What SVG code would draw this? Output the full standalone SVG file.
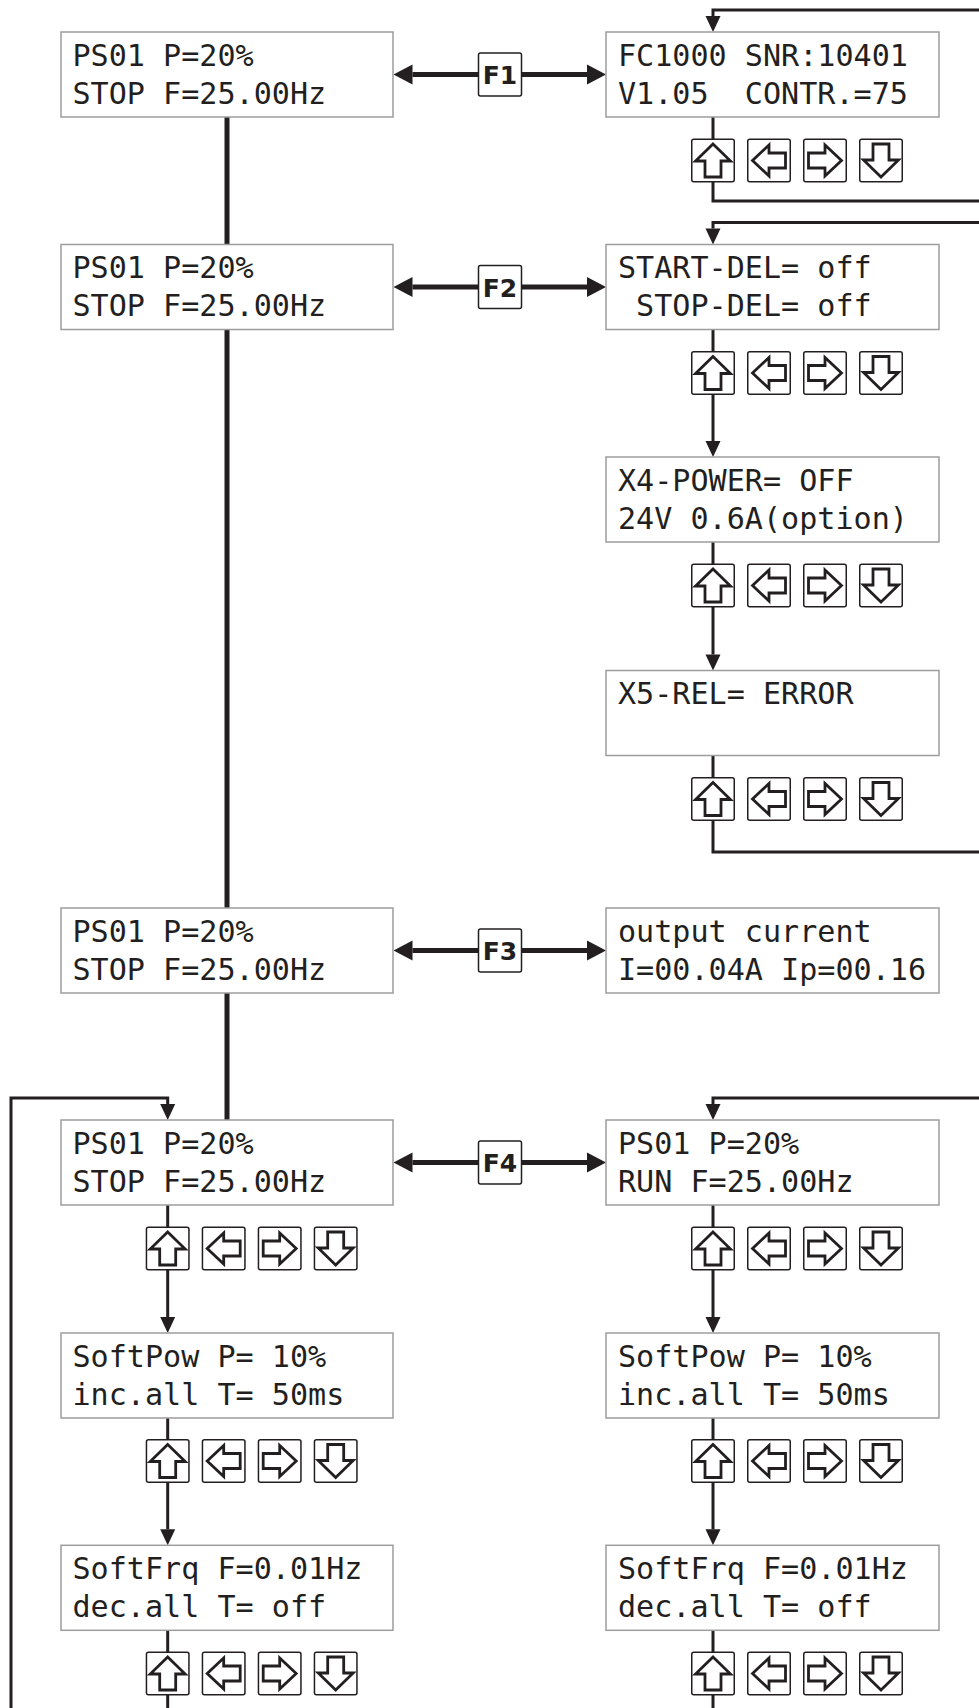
<svg xmlns="http://www.w3.org/2000/svg" xmlns:xlink="http://www.w3.org/1999/xlink" width="979" height="1708" viewBox="0 0 979 1708">
<style>
.box{fill:#fff;stroke:#9d9d9d;stroke-width:1.5}
.t{font-family:"DejaVu Sans Mono","Liberation Mono",monospace;font-size:30.1px;fill:#231f20}
.fk{fill:#fff;stroke:#231f20;stroke-width:1.5}
.fl{font-family:"DejaVu Sans","Liberation Sans",sans-serif;font-weight:900;font-size:25px;fill:#231f20;text-anchor:middle}
.thick{fill:none;stroke:#231f20;stroke-width:5}
.thin{fill:none;stroke:#231f20;stroke-width:3}
.kb{fill:#fff;stroke:#231f20;stroke-width:1.5}
.ar{fill:#fff;stroke:#231f20;stroke-width:2.8;stroke-linejoin:miter}
</style>
<defs>
<marker id="big" markerUnits="userSpaceOnUse" markerWidth="20" markerHeight="20" refX="0" refY="10" orient="auto-start-reverse" overflow="visible">
<path d="M0,0 L19,10 L0,20 Z" fill="#231f20"/>
</marker>
<marker id="sm" markerUnits="userSpaceOnUse" markerWidth="16" markerHeight="15" refX="0" refY="7.5" orient="auto" overflow="visible">
<path d="M0,0 L16,7.5 L0,15 Z" fill="#231f20"/>
</marker>
<g id="btn">
<rect class="kb" x="0.75" y="0.75" width="42.5" height="42.5" rx="2"/>
</g>
<g id="keys">
<use xlink:href="#btn" x="0"/>
<path class="ar" d="M22,5.5 L39.5,22.5 L30,22.5 L30,38.5 L14,38.5 L14,22.5 L4.5,22.5 Z"/>
<use xlink:href="#btn" x="56"/>
<path class="ar" transform="translate(56,0)" d="M5.5,22 L22,6.5 L22,14.5 L38.5,14.5 L38.5,29.5 L22,29.5 L22,37.5 Z"/>
<use xlink:href="#btn" x="112"/>
<path class="ar" transform="translate(112,0)" d="M38.5,22 L22,6.5 L22,14.5 L5.5,14.5 L5.5,29.5 L22,29.5 L22,37.5 Z"/>
<use xlink:href="#btn" x="168"/>
<path class="ar" transform="translate(168,0)" d="M22,38.5 L39.5,21.5 L30,21.5 L30,5.5 L14,5.5 L14,21.5 L4.5,21.5 Z"/>
</g>
</defs>
<rect width="979" height="1708" fill="#fff"/>

<g id="connectors">
<path class="thick" d="M227,117 V1120"/>
<path class="thick" d="M412.5,74.5 H479" marker-start="url(#big)"/>
<path class="thick" d="M521.5,74.5 H587" marker-end="url(#big)"/>
<path class="thick" d="M412.5,287 H479" marker-start="url(#big)"/>
<path class="thick" d="M521.5,287 H587" marker-end="url(#big)"/>
<path class="thick" d="M412.5,950.5 H479" marker-start="url(#big)"/>
<path class="thick" d="M521.5,950.5 H587" marker-end="url(#big)"/>
<path class="thick" d="M412.5,1162.5 H479" marker-start="url(#big)"/>
<path class="thick" d="M521.5,1162.5 H587" marker-end="url(#big)"/>
<path class="thin" d="M979,10 H713 V16" marker-end="url(#sm)"/>
<path class="thin" d="M713,117 V201 H979"/>
<path class="thin" d="M979,222.5 H713 V228.5" marker-end="url(#sm)"/>
<path class="thin" d="M713,329.5 V441" marker-end="url(#sm)"/>
<path class="thin" d="M713,542 V654.5" marker-end="url(#sm)"/>
<path class="thin" d="M713,755.5 V852 H979"/>
<path class="thin" d="M11,1708 V1098 H167.7 V1104" marker-end="url(#sm)"/>
<path class="thin" d="M167.7,1205 V1317" marker-end="url(#sm)"/>
<path class="thin" d="M167.7,1418 V1529.3" marker-end="url(#sm)"/>
<path class="thin" d="M167.7,1630 V1708"/>
<path class="thin" d="M979,1098 H713 V1104" marker-end="url(#sm)"/>
<path class="thin" d="M713,1205 V1317" marker-end="url(#sm)"/>
<path class="thin" d="M713,1418 V1529.3" marker-end="url(#sm)"/>
<path class="thin" d="M713,1630 V1708"/>
</g>

<g id="ps1">
<rect class="box" x="61" y="32" width="332" height="85"/>
<text class="t" x="72.5" y="65.5">PS01 P=20%</text>
<text class="t" x="72.5" y="103.5">STOP F=25.00Hz</text>
</g>
<g id="f1">
<rect class="fk" x="478.5" y="53" width="43" height="43" rx="2"/>
<text class="fl" x="500" y="84">F1</text>
</g>
<g id="info">
<rect class="box" x="606" y="32" width="333" height="85"/>
<text class="t" x="618" y="65.5">FC1000 SNR:10401</text>
<text class="t" x="618" y="103.5" xml:space="preserve">V1.05  CONTR.=75</text>
</g>
<g id="keys-info"><use xlink:href="#keys" x="691" y="138.5"/></g>

<g id="ps2">
<rect class="box" x="61" y="244.5" width="332" height="85"/>
<text class="t" x="72.5" y="278">PS01 P=20%</text>
<text class="t" x="72.5" y="316">STOP F=25.00Hz</text>
</g>
<g id="f2">
<rect class="fk" x="478.5" y="265.5" width="43" height="43" rx="2"/>
<text class="fl" x="500" y="296.5">F2</text>
</g>
<g id="del">
<rect class="box" x="606" y="244.5" width="333" height="85"/>
<text class="t" x="618" y="278" xml:space="preserve">START-DEL= off</text>
<text class="t" x="618" y="316" xml:space="preserve"> STOP-DEL= off</text>
</g>
<g id="keys-del"><use xlink:href="#keys" x="691" y="351"/></g>

<g id="x4">
<rect class="box" x="606" y="457" width="333" height="85"/>
<text class="t" x="618" y="490.5">X4-POWER= OFF</text>
<text class="t" x="618" y="528.5">24V 0.6A(option)</text>
</g>
<g id="keys-x4"><use xlink:href="#keys" x="691" y="563.5"/></g>

<g id="x5">
<rect class="box" x="606" y="670.5" width="333" height="85"/>
<text class="t" x="618" y="704">X5-REL= ERROR</text>
</g>
<g id="keys-x5"><use xlink:href="#keys" x="691" y="777"/></g>

<g id="ps3">
<rect class="box" x="61" y="908" width="332" height="85"/>
<text class="t" x="72.5" y="941.5">PS01 P=20%</text>
<text class="t" x="72.5" y="979.5">STOP F=25.00Hz</text>
</g>
<g id="f3">
<rect class="fk" x="478.5" y="929" width="43" height="43" rx="2"/>
<text class="fl" x="500" y="960">F3</text>
</g>
<g id="current">
<rect class="box" x="606" y="908" width="333" height="85"/>
<text class="t" x="618" y="941.5">output current</text>
<text class="t" x="618" y="979.5">I=00.04A Ip=00.16</text>
</g>

<g id="ps4">
<rect class="box" x="61" y="1120" width="332" height="85"/>
<text class="t" x="72.5" y="1153.5">PS01 P=20%</text>
<text class="t" x="72.5" y="1191.5">STOP F=25.00Hz</text>
</g>
<g id="keys-ps4"><use xlink:href="#keys" x="145.7" y="1226.5"/></g>
<g id="f4">
<rect class="fk" x="478.5" y="1141" width="43" height="43" rx="2"/>
<text class="fl" x="500" y="1172">F4</text>
</g>
<g id="run">
<rect class="box" x="606" y="1120" width="333" height="85"/>
<text class="t" x="618" y="1153.5">PS01 P=20%</text>
<text class="t" x="618" y="1191.5">RUN F=25.00Hz</text>
</g>
<g id="keys-run"><use xlink:href="#keys" x="691" y="1226.5"/></g>

<g id="softpow-l">
<rect class="box" x="61" y="1333" width="332" height="85"/>
<text class="t" x="72.5" y="1366.5">SoftPow P= 10%</text>
<text class="t" x="72.5" y="1404.5">inc.all T= 50ms</text>
</g>
<g id="keys-softpow-l"><use xlink:href="#keys" x="145.7" y="1439"/></g>
<g id="softpow-r">
<rect class="box" x="606" y="1333" width="333" height="85"/>
<text class="t" x="618" y="1366.5">SoftPow P= 10%</text>
<text class="t" x="618" y="1404.5">inc.all T= 50ms</text>
</g>
<g id="keys-softpow-r"><use xlink:href="#keys" x="691" y="1439"/></g>

<g id="softfrq-l">
<rect class="box" x="61" y="1545.3" width="332" height="85"/>
<text class="t" x="72.5" y="1578.8">SoftFrq F=0.01Hz</text>
<text class="t" x="72.5" y="1616.8">dec.all T= off</text>
</g>
<g id="keys-softfrq-l"><use xlink:href="#keys" x="145.7" y="1651.5"/></g>
<g id="softfrq-r">
<rect class="box" x="606" y="1545.3" width="333" height="85"/>
<text class="t" x="618" y="1578.8">SoftFrq F=0.01Hz</text>
<text class="t" x="618" y="1616.8">dec.all T= off</text>
</g>
<g id="keys-softfrq-r"><use xlink:href="#keys" x="691" y="1651.5"/></g>
</svg>
